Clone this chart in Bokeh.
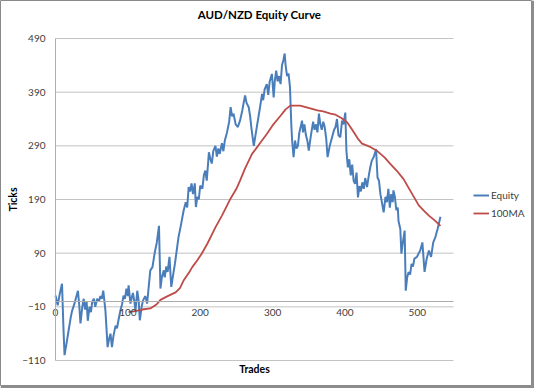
from bokeh.plotting import figure
from bokeh.models import ColumnDataSource, Range1d, FixedTicker, Label, Legend
from bokeh.embed import file_html
from bokeh.resources import INLINE

# ---- data ----
EQ_T = [0, 3, 6, 9, 11, 12.5, 15, 18, 21, 23, 26, 28, 31, 33, 34.5, 37, 39, 41, 43, 44.6,
        47, 49, 50.7, 53, 55, 57.6, 60, 62, 64, 66, 69, 72, 74, 76, 78, 80, 83, 85, 87, 90,
        92, 94, 96, 98, 100, 101, 103.6, 105, 107, 109, 110.5, 113, 115, 116.5, 119, 121, 124, 126.6, 129, 131,
        134, 137, 140, 143, 145, 147, 149.6, 151, 153, 155, 157.5, 160, 162, 165, 167, 170, 173, 177, 180, 182,
        184, 186, 188, 190, 192.5, 194, 196, 198, 200, 203, 205, 207, 209, 212, 214, 216, 218, 221, 223, 225,
        227, 230, 232, 234, 237, 240, 242, 244, 246, 249, 252, 255, 258, 260, 262, 264, 267, 269, 271, 274,
        277, 280, 283, 285.5, 287, 289, 292, 294, 296, 299, 301.5, 303, 305, 307, 309, 311, 313, 315, 316.7, 318,
        320, 322, 324, 326, 327, 329, 331, 333, 335, 337, 340.7, 342, 344, 346, 348, 350, 353, 356, 358, 360,
        362, 364, 366, 368, 370, 372, 374, 376, 379, 382, 385, 387, 389, 391, 393.6, 396, 398, 400.5, 402, 404,
        406, 408, 410, 412, 414, 416, 418, 420, 422, 424, 426, 428, 430.5, 433, 435, 437, 440, 443, 445, 447,
        449, 451, 453.5, 456, 458, 460, 462, 464, 466, 467, 469, 471, 473, 474, 476.5, 478, 480, 482.5, 484, 486,
        488, 490, 492, 494, 496, 499.5, 502, 504, 507, 510, 513, 516, 519, 522, 525, 528, 532]
EQ_V = [11, -7, 15, 33, -50, -100, -80, -55, -30, -17, -5, 5, 20, -10, -41, -10, 5, -15, 0, -36,
        -10, -20, -1, 5, -10, 5, 0, 10, 5, 20, -17, -85, -70, -60, -85, -65, -45, -50, -35, -15,
        -5, 11, 5, 24, 10, 30, -4, 5, 16, 0, -17, 20, 0, -35, -10, 2, 10, -4, 30, 58,
        64, 90, 110, 141, 24, 45, 58, 45, 65, 55, 83, 27, 45, 70, 90, 120, 140, 169, 185, 175,
        213, 205, 220, 200, 220, 176, 195, 190, 216, 210, 235, 244, 225, 278, 265, 257, 280, 290, 270, 285,
        275, 295, 280, 300, 315, 335, 362, 345, 350, 330, 325, 337, 355, 370, 384, 370, 362, 345, 320, 290,
        315, 340, 365, 387, 375, 395, 405, 385, 410, 424, 380, 410, 430, 410, 420, 405, 440, 450, 462, 440,
        420, 425, 400, 325, 300, 269, 300, 285, 290, 315, 337, 315, 330, 310, 300, 281, 310, 335, 320, 330,
        315, 350, 330, 320, 335, 325, 305, 269, 290, 305, 320, 325, 340, 310, 306, 337, 330, 352, 281, 250,
        265, 235, 255, 225, 219, 240, 194, 215, 205, 222, 210, 230, 213, 235, 250, 262, 270, 284, 231, 225,
        200, 185, 166, 195, 185, 210, 175, 200, 185, 207, 195, 170, 175, 150, 135, 89, 110, 132, 20, 45,
        55, 50, 70, 65, 80, 83, 90, 95, 110, 55, 80, 95, 83, 110, 120, 135, 158]

MA_T = [101, 110, 120, 131, 140, 145, 155, 166, 172, 177, 185, 189, 195, 202, 210, 221, 230, 242, 250, 255,
        262, 271.6, 280, 292, 300, 311, 318, 324.6, 338, 352, 362, 370, 380, 387, 395, 403, 410, 418, 423.6, 435,
        444, 455, 463, 472, 481, 490, 502, 510, 516, 524, 532]
MA_V = [-20, -18, -15, -13, -5, 3, 10, 17, 25, 39, 55, 64, 75, 89, 108, 138, 160, 192, 210, 225,
        248, 275, 290, 312, 328, 346, 358, 365, 365, 360, 356, 354, 350, 348, 342, 334, 320, 303, 294, 288,
        281, 268, 256, 243, 228, 207, 179, 168, 160, 151, 141]

X_TICKS = [0, 100, 200, 300, 400, 500]
Y_TICKS = [-110, -10, 90, 190, 290, 390, 490]
X_MIN, X_MAX = 0, 550
Y_MIN, Y_MAX = -110, 490
TITLE = "AUD/NZD Equity Curve"
X_LABEL = "Trades"
Y_LABEL = "Ticks"
SERIES = ["Equity", "100MA"]

# ---- layout (pixels) ----
FW, FH = 531, 385          # chart area (frame) size
SHADOW = 3
PLOT_L, PLOT_R = 55, 453   # plot area in pixels
PLOT_T, PLOT_B = 38, 360
kx = (PLOT_R - PLOT_L) / (X_MAX - X_MIN)
ky = (PLOT_B - PLOT_T) / (Y_MAX - Y_MIN)
x_start = X_MIN - PLOT_L / kx
x_end = x_start + FW / kx
y_end = Y_MAX + PLOT_T / ky
y_start = y_end - FH / ky

FONT = "Lato"
TXT = "#404040"
GRID = "#c3c3c3"
AXIS = "#adadad"

p = figure(width=FW + SHADOW, height=FH + SHADOW, output_backend="svg", toolbar_location=None,
           x_range=Range1d(x_start, x_end), y_range=Range1d(y_start, y_end),
           min_border_left=0, min_border_top=0, min_border_right=SHADOW, min_border_bottom=SHADOW)
p.outline_line_color = "#8a8a8a"
p.outline_line_width = 1
p.background_fill_color = "white"
p.border_fill_color = "#8c8c8c"
p.xgrid.visible = False
p.ygrid.visible = False

# gridlines only across the plot area
p.segment(x0=[X_MIN] * len(Y_TICKS), x1=[X_MAX] * len(Y_TICKS), y0=Y_TICKS, y1=Y_TICKS,
          line_color=GRID, line_width=1)

eq = ColumnDataSource(dict(t=EQ_T, v=EQ_V))
ma = ColumnDataSource(dict(t=MA_T, v=MA_V))
r1 = p.line("t", "v", source=eq, line_color="#4a7ebb", line_width=2)
r2 = p.line("t", "v", source=ma, line_color="#be4b48", line_width=1.8)

xa = p.xaxis[0]
xa.fixed_location = 0
xa.bounds = (X_MIN, X_MAX)
xa.ticker = FixedTicker(ticks=X_TICKS)
xa.minor_tick_line_color = None
xa.major_tick_line_color = None
xa.major_tick_out = 0
xa.major_tick_in = 0
xa.axis_line_color = AXIS
xa.major_label_text_font = FONT
xa.major_label_text_font_size = "10px"
xa.major_label_text_color = TXT
xa.major_label_standoff = 8

ya = p.yaxis[0]
ya.fixed_location = 0
ya.bounds = (Y_MIN, Y_MAX)
ya.ticker = FixedTicker(ticks=Y_TICKS)
ya.minor_tick_line_color = None
ya.major_tick_line_color = None
ya.major_tick_out = 0
ya.major_tick_in = 0
ya.axis_line_color = AXIS
ya.major_label_text_font = FONT
ya.major_label_text_font_size = "10px"
ya.major_label_text_color = TXT
ya.major_label_standoff = 10
ya.axis_label = Y_LABEL
ya.axis_label_text_font = FONT
ya.axis_label_text_font_size = "10.5px"
ya.axis_label_text_font_style = "bold"
ya.axis_label_text_color = "#000000"
ya.axis_label_standoff = 0

p.add_layout(Label(x=259, y=FH - 14, x_units="screen", y_units="screen", text=TITLE,
                   text_align="center", text_baseline="middle", text_font=FONT,
                   text_font_size="11.5px", text_font_style="bold", text_color="#000000"))
p.add_layout(Label(x=254, y=FH - 368, x_units="screen", y_units="screen", text=X_LABEL,
                   text_align="center", text_baseline="middle", text_font=FONT,
                   text_font_size="10.5px", text_font_style="bold", text_color="#000000"))

legend = Legend(items=[(SERIES[0], [r1]), (SERIES[1], [r2])], location=(473, FH - 221),
                border_line_color=None, background_fill_alpha=0, label_text_font=FONT,
                label_text_font_size="10px", label_text_color=TXT, glyph_width=16, glyph_height=16,
                label_standoff=2, spacing=2, padding=0, margin=0, label_height=16)
p.add_layout(legend)

open("out.html", "w").write(file_html(p, INLINE))
